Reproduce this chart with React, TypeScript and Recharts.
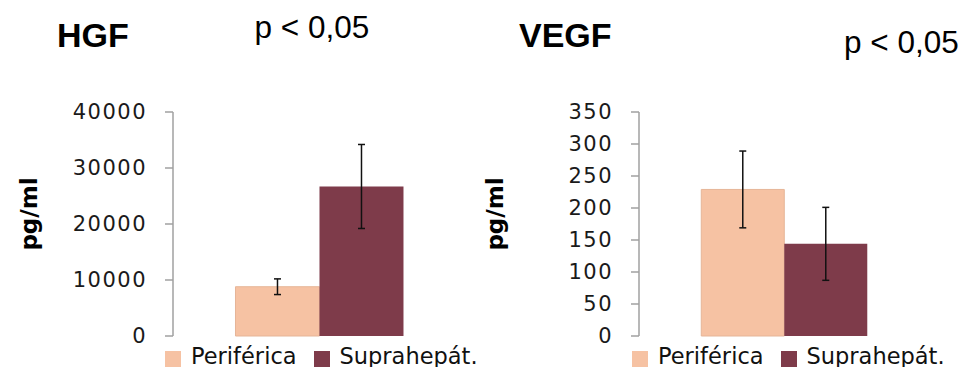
import { BarChart, Bar, XAxis, YAxis, ErrorBar, Legend } from "recharts";

// values
const seriesNames = ["Periférica", "Suprahepát."];
const hgfMeans = [8800, 26700];
const hgfErrors = [1400, 7500];
const hgfTicks = [0, 10000, 20000, 30000, 40000];
const vegfMeans = [229, 144];
const vegfErrors = [60, 57];
const vegfTicks = [0, 50, 100, 150, 200, 250, 300, 350];

const PEACH = "#f6c2a3";
const MAROON = "#7e3b4a";
const AXIS = "#a0a0a0";

const buildRow = (means: number[], errors: number[]) => [
  {
    name: "",
    periferica: means[0],
    perifericaErr: errors[0],
    supra: means[1],
    supraErr: errors[1],
  },
];

const AxisTitle = (props: any) => {
  const { x, y, width, height } = props.viewBox;
  const cx = x + width - 144.5;
  const cy = y + height / 2 - 10;
  return (
    <text
      x={cx}
      y={cy}
      transform={`rotate(-90 ${cx} ${cy})`}
      textAnchor="middle"
      dominantBaseline="central"
      fontFamily="'DejaVu Sans', sans-serif"
      fontWeight="bold"
      fontSize={23}
      fill="#000"
    >
      pg/ml
    </text>
  );
};

const LegendBox = (props: any) => {
  const { payload } = props;
  return (
    <div style={{ display: "flex", alignItems: "flex-start" }}>
      {(payload || []).map((entry: any, i: number) => (
        <div
          key={i}
          style={{ display: "flex", alignItems: "flex-start", marginRight: 17 }}
        >
          <div
            style={{
              width: 16,
              height: 16,
              marginTop: 6,
              marginRight: 10,
              background: entry.color,
            }}
          />
          <span
            style={{
              fontFamily: "'DejaVu Sans', sans-serif",
              fontSize: 22.5,
              lineHeight: "22.5px",
              color: "#111",
              whiteSpace: "nowrap",
            }}
          >
            {entry.value}
          </span>
        </div>
      ))}
    </div>
  );
};

interface PanelProps {
  means: number[];
  errors: number[];
  ticks: number[];
  width: number;
  axisWidth: number;
  rightMargin: number;
  legendLeft: number;
}

function Panel({ means, errors, ticks, width, axisWidth, rightMargin, legendLeft }: PanelProps) {
  const data = buildRow(means, errors);
  return (
    <BarChart
      width={width}
      height={367}
      data={data}
      margin={{ top: 112, right: rightMargin, bottom: 31, left: 0 }}
      barCategoryGap="21.4%"
      barGap={0}
    >
      <XAxis
        dataKey="name"
        height={0}
        tick={false}
        tickLine={false}
        axisLine={{ stroke: AXIS, strokeWidth: 1.5 }}
      />
      <YAxis
        width={axisWidth}
        domain={[0, ticks[ticks.length - 1]]}
        ticks={ticks}
        interval={0}
        tickSize={8}
        tickMargin={18}
        axisLine={{ stroke: AXIS, strokeWidth: 1.5 }}
        tickLine={{ stroke: AXIS, strokeWidth: 1.5 }}
        tick={{
          fill: "#1a1a1a",
          fontSize: 21,
          fontFamily: "'DejaVu Sans', sans-serif",
          letterSpacing: 1.5,
        }}
        label={<AxisTitle />}
      />
      <Legend
        verticalAlign="middle"
        align="center"
        layout="horizontal"
        content={<LegendBox />}
        wrapperStyle={{ left: legendLeft, top: 345, width: "auto" }}
      />
      <Bar
        dataKey="periferica"
        name={seriesNames[0]}
        fill={PEACH}
        stroke="#e6b597"
        strokeWidth={1}
        isAnimationActive={false}
      >
        <ErrorBar dataKey="perifericaErr" width={3.5} stroke="#111" strokeWidth={1.5} />
      </Bar>
      <Bar
        dataKey="supra"
        name={seriesNames[1]}
        fill={MAROON}
        isAnimationActive={false}
      >
        <ErrorBar dataKey="supraErr" width={3.5} stroke="#111" strokeWidth={1.5} />
      </Bar>
    </BarChart>
  );
}

export default function App() {
  const titleFont = "'Liberation Sans', Arial, sans-serif";
  return (
    <div
      style={{
        position: "absolute",
        left: 0,
        top: 0,
        width: 964,
        height: 367,
        background: "#fff",
        overflow: "hidden",
      }}
    >
      <div style={{ position: "absolute", left: 0, top: 0 }}>
        <Panel
          means={hgfMeans}
          errors={hgfErrors}
          ticks={hgfTicks}
          width={480}
          axisWidth={173}
          rightMargin={15}
          legendLeft={165}
        />
      </div>
      <div style={{ position: "absolute", left: 480, top: 0 }}>
        <Panel
          means={vegfMeans}
          errors={vegfErrors}
          ticks={vegfTicks}
          width={484}
          axisWidth={159}
          rightMargin={34}
          legendLeft={152}
        />
      </div>
      <svg
        width={964}
        height={367}
        style={{ position: "absolute", left: 0, top: 0, pointerEvents: "none" }}
      >
        <text x={57} y={47} fontFamily={titleFont} fontWeight="bold" fontSize={34} fill="#000">
          HGF
        </text>
        <text x={254.5} y={38} fontFamily={titleFont} fontSize={31.5} fill="#000">
          p &lt; 0,05
        </text>
        <text x={519} y={47} fontFamily={titleFont} fontWeight="bold" fontSize={34} fill="#000">
          VEGF
        </text>
        <text x={844} y={53} fontFamily={titleFont} fontSize={31.5} fill="#000">
          p &lt; 0,05
        </text>
      </svg>
    </div>
  );
}
